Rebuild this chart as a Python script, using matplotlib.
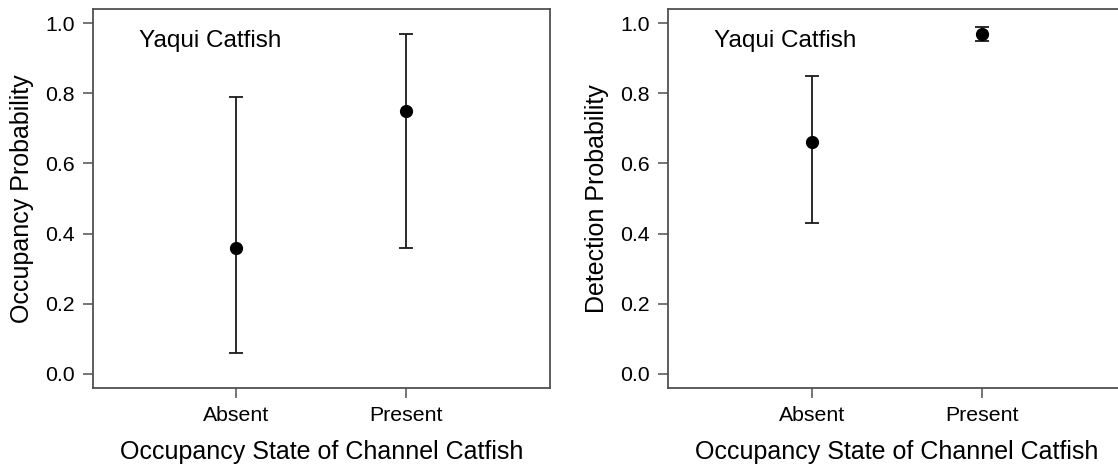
import matplotlib
matplotlib.use("Agg")
import matplotlib.pyplot as plt

# Стани зайнятості (категорії осі X)
states = ["Absent", "Present"]
xPos = [1, 2]

# Ймовірність зайнятості (ліва панель) та межі довірчих інтервалів
occMean = [0.36, 0.75]
occLow = [0.06, 0.36]
occHigh = [0.79, 0.97]

# Ймовірність виявлення (права панель)
detMean = [0.66, 0.97]
detLow = [0.43, 0.95]
detHigh = [0.85, 0.99]

yTicks = [0.0, 0.2, 0.4, 0.6, 0.8, 1.0]
panelText = "Yaqui Catfish"
xTitle = "Occupancy State of Channel Catfish"

plt.rcParams['font.family'] = ['Liberation Sans', 'DejaVu Sans']
spineColor = "#505050"

W, H = 1118, 467
fig = plt.figure(figsize=(W / 100, H / 100), dpi=100)


def drawPanel(rect, mean, low, high, ylabel):
    ax = fig.add_axes(rect)
    errLow = [m - l for m, l in zip(mean, low)]
    errHigh = [h - m for m, h in zip(mean, high)]
    ax.errorbar(xPos, mean, yerr=[errLow, errHigh], fmt='o', color='black',
                ecolor='#1a1a1a', elinewidth=1.3, capsize=5, capthick=1.3,
                markersize=8.5, zorder=3)
    ax.set_xlim(0.155, 2.845)
    ax.set_ylim(-0.04, 1.04)
    ax.set_xticks(xPos)
    ax.set_xticklabels(states)
    ax.set_yticks(yTicks)
    ax.set_yticklabels([f"{t:.1f}" for t in yTicks])
    ax.tick_params(axis='both', direction='out', length=7, width=1.1,
                   color=spineColor, labelsize=15.3, pad=6)
    for s in ax.spines.values():
        s.set_color(spineColor)
        s.set_linewidth(1.3)
    ax.set_xlabel(xTitle, fontsize=18, labelpad=11)
    ax.set_ylabel(ylabel, fontsize=18, labelpad=8)
    ax.text(0.43, 0.95, panelText, fontsize=17.5, va='center', ha='left')
    return ax


bottom = (H - 388) / H
height = (388 - 9) / H
drawPanel([92.5 / W, bottom, 457.5 / W, height], occMean, occLow, occHigh,
          "Occupancy Probability")
drawPanel([667.5 / W, bottom, 459 / W, height], detMean, detLow, detHigh,
          "Detection Probability")

fig.savefig("out.png", dpi=100)
